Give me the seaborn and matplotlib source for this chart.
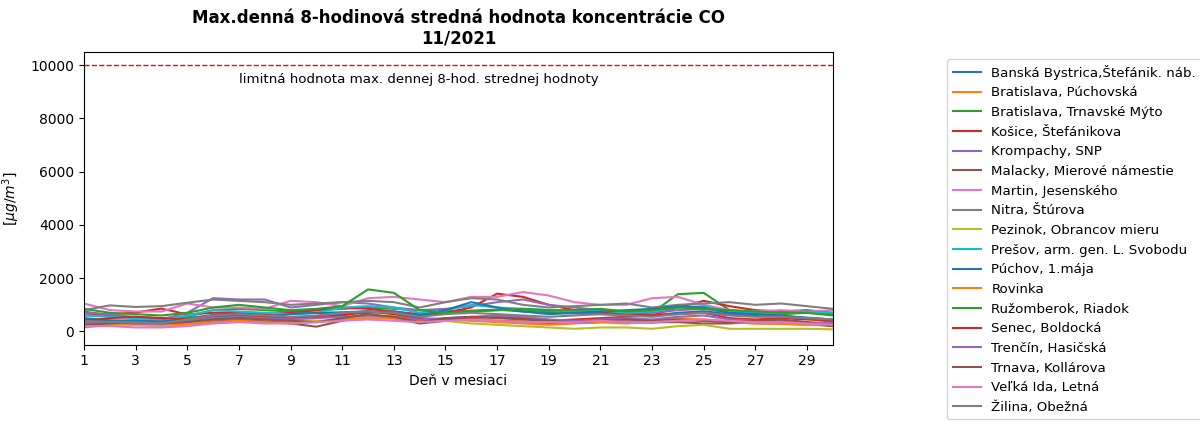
import seaborn as sns
import matplotlib.pyplot as plt
import pandas as pd

# Max. daily 8-hour mean CO concentration, 11/2021
days = list(range(1, 31))

stations = [
    'Banská Bystrica,Štefánik. náb.', 'Bratislava, Púchovská', 'Bratislava, Trnavské Mýto',
    'Košice, Štefánikova', 'Krompachy, SNP', 'Malacky, Mierové námestie',
    'Martin, Jesenského', 'Nitra, Štúrova', 'Pezinok, Obrancov mieru',
    'Prešov, arm. gen. L. Svobodu', 'Púchov, 1.mája', 'Rovinka',
    'Ružomberok, Riadok', 'Senec, Boldocká', 'Trenčín, Hasičská',
    'Trnava, Kollárova', 'Veľká Ida, Letná', 'Žilina, Obežná',
]

banska_bystrica = [450, 380, 420, 350, 500, 620, 700, 650, 680, 700, 720, 760, 700, 600, 680,
                   780, 820, 750, 700, 680, 650, 620, 600, 700, 760, 650, 600, 580, 520, 450]
ba_puchovska = [150, 250, 300, 200, 280, 380, 420, 380, 350, 380, 420, 520, 560, 480, 450,
                420, 400, 380, 300, 320, 350, 330, 320, 420, 400, 350, 300, 280, 250, 220]
ba_trnavske_myto = [750, 600, 550, 500, 550, 800, 850, 800, 750, 800, 850, 900, 850, 800, 780,
                    760, 800, 820, 750, 700, 700, 680, 700, 1400, 1450, 800, 700, 650, 700, 650]
kosice = [600, 640, 710, 860, 640, 700, 720, 650, 700, 800, 900, 850, 750, 650, 700,
          900, 1420, 1300, 1000, 800, 700, 650, 600, 900, 1150, 950, 800, 750, 800, 700]
krompachy = [700, 650, 500, 450, 700, 1250, 1200, 1200, 900, 1000, 1100, 1050, 900, 800, 850,
             950, 1100, 1200, 1000, 900, 800, 750, 700, 800, 850, 700, 650, 600, 500, 350]
malacky = [200, 300, 250, 220, 300, 400, 450, 400, 300, 180, 400, 600, 500, 300, 400,
           450, 400, 350, 300, 320, 350, 380, 350, 350, 300, 300, 350, 350, 300, 200]
martin = [1050, 800, 750, 750, 1050, 900, 900, 850, 1150, 1100, 950, 1250, 1300, 1200, 1100,
          1300, 1300, 1480, 1350, 1100, 1000, 1000, 1250, 1300, 1000, 800, 750, 800, 750, 800]
nitra = [800, 980, 920, 950, 1080, 1200, 1150, 1100, 1000, 1050, 1100, 1150, 1100, 900, 1100,
         1250, 1200, 1000, 900, 950, 1000, 1050, 900, 1000, 1050, 1100, 1000, 1050, 950, 850]
pezinok = [300, 250, 250, 200, 300, 450, 500, 450, 400, 400, 450, 550, 550, 450, 400,
           300, 250, 200, 150, 100, 150, 150, 100, 200, 250, 100, 100, 100, 100, 80]
presov = [600, 550, 500, 450, 600, 800, 750, 700, 650, 700, 900, 950, 900, 700, 800,
          1000, 900, 850, 800, 750, 800, 700, 750, 900, 950, 750, 700, 700, 750, 700]
puchov = [500, 420, 400, 380, 450, 550, 600, 550, 650, 700, 650, 700, 750, 600, 800,
          1100, 900, 750, 650, 700, 750, 800, 850, 950, 900, 700, 650, 600, 500, 450]
rovinka = [350, 300, 280, 300, 250, 350, 400, 350, 300, 350, 450, 500, 480, 400, 450,
           400, 350, 300, 250, 300, 350, 300, 400, 500, 450, 350, 300, 300, 250, 250]
ruzomberok = [850, 700, 650, 600, 700, 900, 1000, 900, 800, 850, 950, 1580, 1450, 800, 700,
              750, 800, 850, 800, 800, 850, 750, 800, 900, 850, 800, 750, 700, 700, 600]
senec = [400, 500, 550, 500, 450, 600, 650, 550, 500, 550, 600, 750, 650, 500, 450,
         500, 550, 500, 400, 450, 500, 550, 600, 650, 700, 500, 450, 500, 450, 400]
trencin = [300, 350, 300, 280, 400, 500, 550, 500, 450, 500, 550, 600, 550, 450, 500,
           550, 600, 550, 450, 400, 450, 500, 450, 550, 600, 450, 400, 400, 350, 300]
trnava = [250, 300, 350, 300, 350, 450, 500, 450, 400, 350, 500, 650, 550, 350, 500,
          550, 500, 450, 400, 350, 400, 450, 400, 450, 400, 350, 400, 450, 350, 200]
velka_ida = [200, 200, 150, 150, 200, 300, 350, 300, 300, 350, 400, 450, 400, 350, 400,
             450, 400, 350, 350, 350, 400, 350, 350, 400, 450, 400, 350, 350, 300, 250]
zilina = [400, 350, 350, 300, 450, 600, 650, 600, 550, 600, 700, 750, 700, 550, 650,
          700, 650, 600, 550, 600, 650, 600, 550, 650, 700, 600, 550, 550, 500, 450]

series = [banska_bystrica, ba_puchovska, ba_trnavske_myto, kosice, krompachy, malacky,
          martin, nitra, pezinok, presov, puchov, rovinka, ruzomberok, senec, trencin,
          trnava, velka_ida, zilina]

limit_value = 10000
limit_label = 'limitná hodnota max. dennej 8-hod. strednej hodnoty'

# long-form table for seaborn
df = pd.DataFrame([
    {'den': d, 'stanica': s, 'co': v}
    for s, vals in zip(stations, series)
    for d, v in zip(days, vals)
])

palette = (sns.color_palette('tab10') * 2)[:len(stations)]

fig, ax = plt.subplots(figsize=(12, 4.22), dpi=100)
fig.subplots_adjust(left=0.07, right=0.694, top=0.877, bottom=0.183)

sns.lineplot(data=df, x='den', y='co', hue='stanica', hue_order=stations,
             palette=palette, linewidth=1.5, ax=ax)

ax.axhline(limit_value, color='red', linestyle='--', linewidth=1)
ax.text(7, 9450, limit_label, fontsize=9.6, va='center')

ax.set_xlim(1, 30)
ax.set_ylim(-500, 10500)
ax.set_xticks(range(1, 30, 2))
ax.set_xlabel('Deň v mesiaci')
ax.set_ylabel('[$\\mu g/m^3$]', labelpad=6)
ax.set_title('Max.denná 8-hodinová stredná hodnota koncentrácie CO\n11/2021',
             fontweight='bold', fontsize=12)

ax.legend(loc='upper left', bbox_to_anchor=(1.153, 0.975), borderaxespad=0,
          fontsize=9.6, handlelength=2.1, labelspacing=0.5, frameon=True)

plt.savefig('out.png', dpi=100)
plt.close()
